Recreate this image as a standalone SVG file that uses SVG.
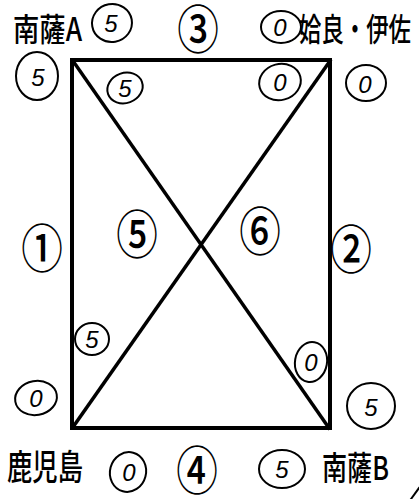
<svg xmlns="http://www.w3.org/2000/svg" width="419" height="499" viewBox="0 0 419 499">
<style>
.lbl{font-family:"Noto Sans CJK JP","Noto Sans",sans-serif;font-weight:500;fill:#000}
.cn{font-family:"Noto Sans CJK JP","DejaVu Sans",sans-serif;font-size:52px;font-weight:500;fill:#000;text-anchor:middle}
.hw{fill:none;stroke:#000;stroke-width:2}
.hd{font-family:"Liberation Sans",sans-serif;font-style:italic;font-size:24px;fill:#000;text-anchor:middle}
.edge{stroke:#000;stroke-linecap:square;fill:none}
</style>
<rect width="419" height="499" fill="#fff"/>
<g id="connectors">
  <rect x="72" y="60" width="258" height="368" class="edge" stroke-width="4"/>
  <line x1="73" y1="61" x2="329" y2="428" class="edge" stroke-width="3.5"/>
  <line x1="73" y1="427" x2="330" y2="61" class="edge" stroke-width="3.5"/>
  <line x1="411" y1="499" x2="419" y2="488" class="edge" stroke-width="2"/>
</g>
<g id="node-nansatsuA">
  <text class="lbl" x="13" y="41" font-size="32" textLength="69" lengthAdjust="spacingAndGlyphs">南薩A</text>
  <ellipse class="hw" cx="112" cy="23" rx="20" ry="19" transform="rotate(-10 112 23)"/>
  <text class="hd" x="111" y="32">5</text>
  <ellipse class="hw" cx="37" cy="76" rx="21" ry="24"/>
  <text class="hd" x="38" y="86">5</text>
  <ellipse class="hw" cx="125" cy="88" rx="18" ry="15" transform="rotate(-20 125 88)"/>
  <text class="hd" x="125" y="97">5</text>
</g>
<g id="node-aira-isa">
  <text class="lbl" x="299" y="41" font-size="32" textLength="112" lengthAdjust="spacingAndGlyphs">姶良・伊佐</text>
  <ellipse class="hw" cx="281" cy="27" rx="20" ry="16"/>
  <text class="hd" x="280" y="36" font-size="22">0</text>
  <ellipse class="hw" cx="280" cy="82" rx="21" ry="18" transform="rotate(-15 280 82)"/>
  <text class="hd" x="280" y="91" font-size="22">0</text>
  <ellipse class="hw" cx="366" cy="83" rx="20" ry="18"/>
  <text class="hd" x="365" y="93" font-size="24">0</text>
</g>
<g id="node-kagoshima">
  <text class="lbl" x="7" y="480" font-size="35" textLength="76" lengthAdjust="spacingAndGlyphs">鹿児島</text>
  <ellipse class="hw" cx="128" cy="472" rx="18" ry="20" transform="rotate(15 128 472)"/>
  <text class="hd" x="129" y="481" font-size="22">0</text>
  <ellipse class="hw" cx="36" cy="398" rx="21" ry="17" transform="rotate(-10 36 398)"/>
  <text class="hd" x="36" y="407" font-size="22">0</text>
  <ellipse class="hw" cx="92" cy="339" rx="17" ry="16"/>
  <text class="hd" x="92" y="348" font-size="22">5</text>
</g>
<g id="node-nansatsuB">
  <text class="lbl" x="322" y="480" font-size="33" textLength="67" lengthAdjust="spacingAndGlyphs">南薩B</text>
  <ellipse class="hw" cx="282" cy="469" rx="23" ry="19"/>
  <text class="hd" x="282" y="478">5</text>
  <ellipse class="hw" cx="311" cy="362" rx="16" ry="20" transform="rotate(10 311 362)"/>
  <text class="hd" x="311" y="371" font-size="22">0</text>
  <ellipse class="hw" cx="371" cy="406" rx="24" ry="23"/>
  <text class="hd" x="371" y="416" font-size="26">5</text>
</g>
<g id="match-labels">
  <text class="cn" transform="translate(42 245) scale(0.8 1)" y="23">①</text>
  <text class="cn" transform="translate(351 246) scale(0.8 1)" y="23">②</text>
  <text class="cn" transform="translate(198 26) scale(0.8 1)" y="23">③</text>
  <text class="cn" transform="translate(197 467) scale(0.8 1)" y="23">④</text>
  <text class="cn" transform="translate(137 231) scale(0.8 1)" y="23">⑤</text>
  <text class="cn" transform="translate(260 228) scale(0.8 1)" y="23">⑥</text>
</g>
</svg>
